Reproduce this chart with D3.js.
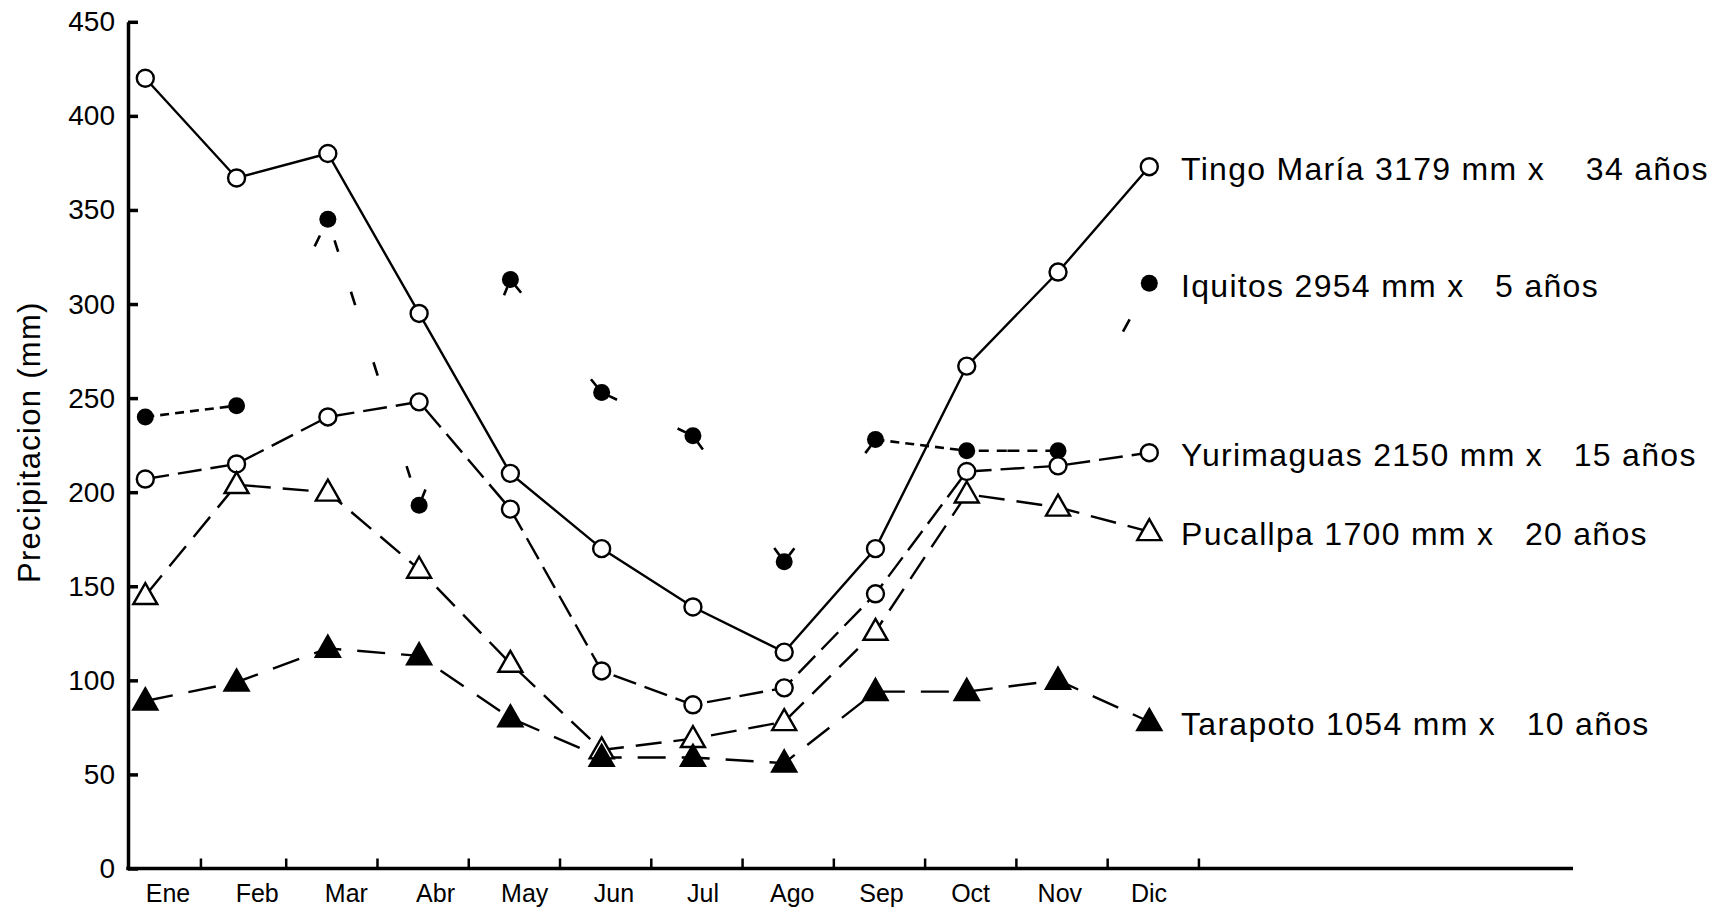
<!DOCTYPE html>
<html><head><meta charset="utf-8">
<script src="https://cdn.jsdelivr.net/npm/d3@7"></script>
<style>body{margin:0;background:#fff}svg{display:block}text{font-family:"Liberation Sans",Arial,sans-serif;fill:#000}</style>
</head><body><svg id="c" width="1713" height="908"></svg>
<script>
const months = ["Ene","Feb","Mar","Abr","May","Jun","Jul","Ago","Sep","Oct","Nov","Dic"];
const yTicks = [0,50,100,150,200,250,300,350,400,450];
const tingoMaria = [420,367,380,295,210,170,139,115,170,267,317,373];
const iquitos    = [240,246,345,193,313,253,230,163,228,222,222,311];
const yurimaguas = [207,215,240,248,191,105,87,96,146,211,214,221];
const pucallpa   = [145,204,200,159,109,63,69,78,126,199,192,179];
const tarapoto   = [89,99,117,113,80,59,59,56,94,94,100,78];
const legendLabels = [
  "Tingo María 3179 mm x    34 años",
  "Iquitos 2954 mm x   5 años",
  "Yurimaguas 2150 mm x   15 años",
  "Pucallpa 1700 mm x   20 años",
  "Tarapoto 1054 mm x   10 años"
];
const yTitle = "Precipitacion (mm)";

const series = [
  {values:tingoMaria, marker:"circle", fill:"#fff", dash:null, label:legendLabels[0]},
  {values:iquitos, marker:"dot", fill:"#000", dash:"iq", label:legendLabels[1]},
  {values:yurimaguas, marker:"circle", fill:"#fff", dash:"24,9", label:legendLabels[2]},
  {values:pucallpa, marker:"tri", fill:"#fff", dash:"26,12", label:legendLabels[3]},
  {values:tarapoto, marker:"tri", fill:"#000", dash:"28,16", label:legendLabels[4]}
];

const svg = d3.select("#c");
const axisX0 = 128, axisX1 = 1573;
const y = d3.scaleLinear().domain([0,450]).range([868.5,21.8]);
const x = d3.scalePoint().domain(months).range([145.3,1149.3]);
const xLab = d3.scalePoint().domain(months).range([168,1149]);
const step = x.step();

// Y axis
const yAxis = d3.axisLeft(y).tickValues(yTicks).tickSizeInner(-10).tickSizeOuter(0).tickPadding(13);
const gy = svg.append("g").attr("transform",`translate(${axisX0},0)`).call(yAxis);
gy.select(".domain").attr("stroke","#000").attr("stroke-width",3.5);
gy.selectAll(".tick line").attr("stroke","#000").attr("stroke-width",3.5);
gy.selectAll(".tick text").attr("font-size",28).attr("font-family","Liberation Sans, Arial, sans-serif").attr("fill","#000");

// X axis line
svg.append("line").attr("x1",axisX0-1.75).attr("x2",axisX1).attr("y1",y(0)).attr("y2",y(0))
  .attr("stroke","#000").attr("stroke-width",3.5);
// x ticks at month boundaries
svg.selectAll(".xt").data(months).enter().append("line")
  .attr("x1",(d,i)=>x(d)+step/2+(i===0?10:4)).attr("x2",(d,i)=>x(d)+step/2+(i===0?10:4))
  .attr("y1",y(0)).attr("y2",y(0)-10).attr("stroke","#000").attr("stroke-width",2.5);
svg.selectAll(".xl").data(months).enter().append("text")
  .attr("x",d=>xLab(d)).attr("y",y(0)+33).attr("text-anchor","middle")
  .attr("font-size",25).text(d=>d);

// Y title
svg.append("text").attr("transform",`translate(40,${(y(0)+y(450))/2 - 3}) rotate(-90)`)
  .attr("text-anchor","middle").attr("font-size",31).attr("letter-spacing",1.3).text(yTitle);

const line = d3.line().x((d,i)=>x(months[i])).y(d=>y(d));

// lines
series.forEach(s=>{
  if (s.dash === "iq") {
    // Iquitos: fragmentary line as in the reproduction
    for (let i=0;i<s.values.length-1;i++){
      const x1=x(months[i]), y1=y(s.values[i]), x2=x(months[i+1]), y2=y(s.values[i+1]);
      const L = Math.hypot(x2-x1,y2-y1);
      let da;
      if (i===0 || i===8) da = "9,6";
      else if (i===9) da = `0,12,10,8,10,${Math.max(0,(L-90)/2)},12,8,10,8,10,1000`;
      else if (i===2) da = `0,22,12,42,14,60,14,95,12,1000`;
      else if (i===1) da = `0,${L-30},12,1000`;
      else if (i===10) da = `0,${L-55},14,1000`;
      else da = `0,8,9,${Math.max(0,L-34)},9,1000`;
      svg.append("line")
        .attr("x1",x1).attr("y1",y1).attr("x2",x2).attr("y2",y2)
        .attr("stroke","#000").attr("stroke-width",2.6)
        .attr("stroke-dasharray", da);
    }
  } else {
    svg.append("path").datum(s.values).attr("d",line)
      .attr("fill","none").attr("stroke","#000").attr("stroke-width",2.4)
      .attr("stroke-dasharray", s.dash);
  }
});

// markers
series.forEach(s=>{
  const g = svg.append("g");
  s.values.forEach((v,i)=>{
    const cx = x(months[i]), cy = y(v);
    if (s.marker==="circle") {
      g.append("circle").attr("cx",cx).attr("cy",cy).attr("r",8.5)
        .attr("fill","#fff").attr("stroke","#000").attr("stroke-width",2.4);
    } else if (s.marker==="dot") {
      g.append("circle").attr("cx",cx).attr("cy",cy).attr("r",8.5).attr("fill","#000");
    } else {
      const h=21, w=24;
      g.append("path").attr("d",`M${cx},${cy-h*0.6} L${cx+w/2},${cy+h*0.4} L${cx-w/2},${cy+h*0.4} Z`)
        .attr("fill",s.fill).attr("stroke","#000").attr("stroke-width",2.4).attr("stroke-linejoin","miter");
    }
  });
  const last = s.values[s.values.length-1];
  svg.append("text").attr("x",1181).attr("y",y(last)+2).attr("dy","0.35em")
    .attr("font-size",32).attr("letter-spacing",1.3).attr("xml:space","preserve").style("white-space","pre").text(s.label);
});
</script></body></html>
